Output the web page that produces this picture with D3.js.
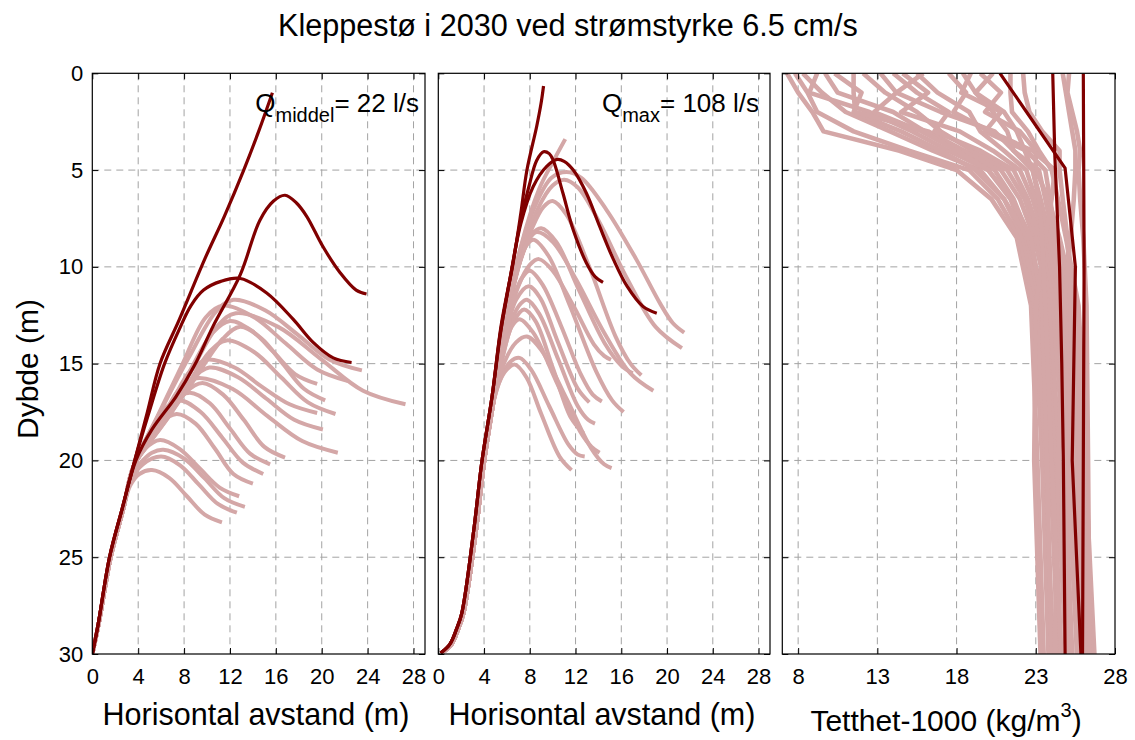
<!DOCTYPE html>
<html><head><meta charset="utf-8">
<script src="https://cdn.jsdelivr.net/npm/d3@7"></script>
<style>body{margin:0;background:#fff} svg text{font-family:"Liberation Sans",Arial,sans-serif}</style>
</head><body><svg id="c" width="1135" height="740"></svg>
<script>
// ---------- data ----------
const titleText = "Kleppestø i 2030 ved strømstyrke 6.5 cm/s";
const distTicks = [0,4,8,12,16,20,24,28];
const rhoTicks = [8,13,18,23,28];
const depthTicks = [0,5,10,15,20,25,30];

// panel 1 (Q middel) : [horizontal distance, depth]
const p1LightTrunk = [[0,30],[0.6,28.3],[1.6,25],[2.7,22.5]];
const p1LightBranches = [
 [[3.6,20.3],[6.0,17.4],[8.4,14.7],[10.8,12.3],[12.3,11.7],[15.1,12.25],[17.9,13.5],[20.7,14.8],[23.5,15.35]],
 [[3.6,20.3],[5.7,17.7],[7.8,15.1],[9.9,12.6],[11.4,12.0],[14.1,12.6],[16.85,13.95],[19.6,15.3],[22.3,15.9]],
 [[3.6,20.3],[6.1,17.9],[8.6,15.4],[11.0,13.0],[12.5,12.4],[16.2,13.1],[19.9,14.75],[23.6,16.4],[27.3,17.1]],
 [[3.6,20.3],[5.9,18.0],[8.2,15.7],[10.5,13.4],[12.0,12.8],[13.9,13.3],[15.8,14.4],[17.7,15.55],[19.6,16.05]],
 [[3.6,20.3],[6.2,18.1],[8.8,15.9],[11.4,13.7],[12.9,13.1],[14.75,13.7],[16.6,15.0],[18.45,16.3],[20.3,16.9]],
 [[3.6,20.3],[5.8,18.3],[8.0,16.4],[10.2,14.4],[11.7,13.8],[14.1,14.4],[16.45,15.7],[18.8,17.0],[21.2,17.6]],
 [[3.6,20.3],[5.2,18.6],[6.9,17.0],[8.5,15.4],[10.0,14.8],[12.4,15.2],[14.8,16.2],[17.2,17.1],[19.6,17.55]],
 [[3.6,20.3],[5.3,18.8],[7.0,17.3],[8.7,15.8],[10.2,15.2],[12.7,15.7],[15.15,16.8],[17.6,17.9],[20.1,18.4]],
 [[3.6,20.3],[4.9,19.0],[6.2,17.7],[7.6,16.3],[9.1,15.75],[12.2,16.3],[15.25,17.7],[18.3,19.0],[21.4,19.6]],
 [[3.6,20.3],[5.1,19.0],[6.6,17.8],[8.1,16.5],[9.6,16.0],[11.4,16.6],[13.2,17.9],[15.0,19.3],[16.8,19.85]],
 [[3.6,20.3],[4.7,19.3],[5.8,18.2],[7.0,17.0],[8.5,16.5],[10.25,17.05],[12.0,18.35],[13.75,19.65],[15.5,20.2]],
 [[3.6,20.3],[4.5,19.4],[5.3,18.5],[6.2,17.4],[7.65,16.9],[9.45,17.5],[11.3,18.8],[13.1,20.1],[14.9,20.7]],
 [[3.6,20.3],[4.6,19.3],[5.9,18.1],[7.35,17.6],[9.0,18.1],[10.7,19.4],[12.3,20.7],[14.0,21.2]],
 [[3.6,20.3],[4.6,19.4],[5.9,18.95],[7.6,19.4],[9.35,20.4],[11.1,21.4],[12.8,21.85]],
 [[3.5,20.7],[4.4,20.0],[5.2,19.6],[6.2,19.45],[8.0,19.9],[9.75,20.9],[11.5,21.95],[13.3,22.4]],
 [[3.4,21.0],[4.4,20.2],[6.0,19.8],[7.65,20.25],[9.3,21.25],[10.95,22.25],[12.6,22.7]],
 [[3.3,21.3],[4.1,20.7],[5.2,20.5],[6.7,20.9],[8.25,21.85],[9.8,22.8],[11.3,23.2]]
];
const p1Dark = [
 [[0,30],[0.5,28.5],[1.5,25],[2.6,22.5],[3.7,20],[4.8,17.5],[5.9,15],[7.6,12.7],[9.8,9.6],[11.5,7.4],[13.2,5],[14.5,3],[15.7,1.0]],
 [[0,30],[0.5,28.5],[1.5,25],[2.6,22.5],[3.8,20],[5.2,18.4],[7.3,16.7],[8.9,15.1],[10.5,13.1],[12.9,10.4],[14.6,7.6],[15.8,6.6],[16.8,6.3],[17.8,6.7],[18.7,7.4],[20.1,8.95],[21.6,10.3],[23.0,11.2],[23.9,11.4]],
 [[0,30],[0.5,28.5],[1.5,25],[2.6,22.5],[3.7,20],[4.9,17.6],[6.3,15],[7.6,13.2],[8.6,12.0],[9.7,11.2],[11.2,10.75],[12.9,10.6],[15.2,11.35],[17.5,12.7],[19.25,13.9],[21.0,14.7],[22.6,14.94]]
];

// panel 2 (Q max)
const p2LightTrunk = [[0.3,29.95],[1.15,29.5],[1.75,28.7],[2.2,27.9],[3.3,23.6],[4.0,20.1]];
const p2LightBranches = [
 [[4.9,16.7],[5.8,13.0],[7.2,9.0],[8.8,6.0],[10.0,4.6],[11.1,3.4]],
 [[4.9,16.7],[5.8,13.0],[7.0,9.5],[8.5,6.8],[9.9,5.4],[11.2,5.1],[12.5,5.4],[14.7,7.05],[17.3,9.6],[19.4,11.9],[20.5,12.9],[21.5,13.4]],
 [[4.9,16.7],[5.9,13.0],[7.2,9.5],[8.7,7.0],[10.0,5.8],[11.0,5.5],[12.2,5.9],[14.0,7.6],[16.5,10.6],[19.0,13.1],[21.3,14.2]],
 [[4.9,16.7],[5.8,13.2],[6.9,10.2],[8.2,8.0],[9.2,6.9],[10.0,6.6],[11.2,7.3],[13.2,10.0],[15.5,13.6],[16.8,15.0],[17.75,15.6]],
 [[4.9,16.7],[5.9,13.0],[7.0,10.0],[7.9,8.6],[8.6,8.2],[10.0,8.7],[12.0,10.6],[14.5,13.4],[16.8,15.5],[18.8,16.4]],
 [[4.9,16.7],[5.8,13.2],[6.8,10.5],[7.6,9.0],[8.3,8.6],[9.6,9.4],[11.5,12.0],[13.8,15.4],[15.2,16.9],[16.2,17.5]],
 [[4.9,16.7],[5.9,12.8],[7.0,10.0],[8.2,8.3],[9.0,8.0],[10.3,8.7],[12.3,11.2],[14.6,14.0],[16.0,15.1],[17.0,15.5]],
 [[4.9,16.7],[5.8,13.6],[6.7,11.4],[7.4,10.5],[8.0,10.2],[9.1,10.9],[10.7,13.0],[12.5,15.6],[13.5,16.6],[14.3,16.95]],
 [[4.9,16.7],[5.9,13.3],[7.0,11.0],[8.0,9.9],[8.8,9.6],[10.0,10.2],[11.8,12.0],[13.6,14.0],[14.5,14.6],[15.1,14.8]],
 [[4.9,16.7],[5.8,14.0],[6.6,12.5],[7.2,11.9],[7.75,11.7],[8.8,12.4],[10.5,14.8],[12.2,17.2],[13.1,17.9],[13.7,18.1]],
 [[4.9,16.7],[5.8,14.2],[6.6,12.8],[7.5,12.2],[8.5,12.8],[10.0,15.2],[11.6,17.8],[12.7,18.6]],
 [[4.9,16.7],[5.7,14.5],[6.4,13.1],[7.1,12.7],[8.3,13.4],[10.3,15.9],[12.4,18.5],[13.4,19.3],[14.1,19.6]],
 [[4.9,16.7],[5.8,14.9],[6.8,13.9],[7.75,13.6],[9.0,14.3],[11.2,16.8],[13.4,19.4],[14.5,20.2],[15.15,20.4]],
 [[4.7,17.3],[5.5,15.7],[6.3,14.9],[7.1,14.7],[8.1,15.3],[9.7,17.2],[11.4,19.2],[12.2,19.7],[12.8,19.8]],
 [[4.6,17.6],[5.3,16.0],[6.0,15.3],[6.7,15.05],[7.7,15.7],[9.0,17.6],[10.6,19.8],[11.65,20.5]],
 [[4.9,16.7],[5.8,13.8],[6.8,11.7],[7.9,11.0],[8.9,11.6],[10.4,13.8],[12.2,16.3],[13.2,17.0]]
];
const p2Dark = [
 [[0.2,29.95],[1.0,29.5],[1.6,28.7],[2.05,27.9],[3.1,23.6],[3.8,20.1],[4.7,16.7],[5.4,13.5],[6.0,11.5],[6.6,9.6],[7.2,7.3],[7.75,5.0],[8.6,2.75],[9.0,1.5],[9.2,0.66]],
 [[0.2,29.95],[1.0,29.5],[1.6,28.7],[2.05,27.9],[3.1,23.6],[3.8,20.1],[4.7,16.7],[5.5,13.0],[6.3,10.5],[7.2,7.6],[7.9,5.9],[8.6,4.5],[9.2,4.05],[9.7,4.15],[10.05,4.5],[10.9,6.2],[11.8,8.1],[12.95,9.8],[13.7,10.5],[14.4,10.8]],
 [[0.2,29.95],[1.0,29.5],[1.6,28.7],[2.05,27.9],[3.1,23.6],[3.8,20.1],[4.7,16.7],[5.5,13.2],[6.4,10.2],[7.2,7.8],[8.3,5.85],[9.5,4.8],[10.4,4.45],[11.0,4.55],[11.8,5.0],[12.95,6.2],[14.1,7.9],[15.3,9.6],[16.5,11.0],[17.9,12.05],[19.1,12.4]]
];

// panel 3: density (Tetthet-1000) profiles at these depths
const rhoDepths = [0,1,2,3,4,5,6.5,8.5,12,20,30];
const rhoLight = [
 [7.3, 8.0, 8.9, 9.6, 14.4, 18.0, 20.2, 21.8, 22.7, 23.1, 23.5],
 [7.8, 8.6, 9.2, 11.5, 15.0, 18.8, 20.6, 22.0, 22.9, 23.4, 23.8],
 [8.3, 9.5, 11.0, 13.8, 16.5, 19.5, 21.0, 22.2, 23.1, 23.6, 24.1],
 [9.2, 8.7, 12.5, 15.2, 17.5, 20.0, 21.4, 22.4, 23.3, 23.9, 24.4],
 [9.7, 10.5, 14.0, 16.0, 18.3, 20.4, 21.6, 22.6, 23.5, 24.1, 24.6],
 [10.3, 12.0, 11.5, 14.5, 17.0, 19.2, 21.0, 22.5, 23.7, 24.3, 24.9],
 [11.5, 11.5, 11.6, 16.2, 18.5, 20.8, 22.0, 22.9, 23.9, 24.5, 25.1],
 [12.1, 13.5, 15.5, 17.0, 19.0, 21.2, 22.3, 23.1, 24.1, 24.8, 25.3],
 [13.2, 14.2, 12.8, 15.8, 18.0, 20.0, 21.5, 22.7, 23.4, 23.7, 24.0],
 [14.0, 15.5, 17.5, 16.6, 19.5, 21.6, 22.5, 23.3, 24.3, 25.0, 25.6],
 [14.6, 16.2, 14.5, 18.2, 20.3, 22.0, 22.8, 23.5, 24.5, 25.2, 25.8],
 [15.5, 16.8, 18.8, 19.5, 21.0, 22.4, 23.0, 23.7, 24.7, 25.4, 26.0],
 [15.9, 14.2, 17.0, 20.4, 21.6, 22.8, 23.3, 23.9, 24.9, 25.6, 26.2],
 [18.4, 19.2, 20.3, 21.2, 21.6, 23.2, 23.6, 24.1, 25.1, 25.8, 26.4],
 [18.9, 18.3, 20.8, 19.8, 22.4, 23.6, 23.9, 24.3, 25.3, 26.0, 26.6],
 [19.5, 20.8, 19.8, 22.0, 23.0, 23.0, 23.8, 24.5, 25.5, 26.1, 26.7],
 [21.4, 21.4, 21.5, 22.5, 23.2, 24.0, 24.4, 24.9, 25.7, 26.2, 26.5],
 [22.2, 22.3, 22.6, 23.4, 24.5, 24.5, 24.7, 25.0, 25.2, 25.4, 25.6],
 [25.1, 25.0, 25.3, 25.6, 25.8, 25.7, 25.8, 26.0, 26.2, 26.3, 26.4],
 [24.7, 24.9, 25.1, 25.3, 25.5, 25.5, 25.4, 25.2, 24.8, 24.4, 24.2],
 [17.5, 18.6, 17.8, 20.1, 22.8, 24.2, 24.0, 23.6, 23.0, 22.9, 23.3],
 [20.3, 19.2, 21.0, 21.8, 22.3, 22.8, 23.2, 23.4, 23.6, 24.0, 24.6]
];
const rhoDark = [
 [[24.07,0],[24.2,4.2],[24.5,10],[24.64,15],[24.74,20],[24.85,30]],
 [[20.74,0],[24.85,4.9],[25.5,10],[25.3,20],[25.85,30]],
 [[26.0,0],[26.05,10],[26.0,20],[25.95,30]]
];

// ---------- drawing ----------
const lightCol = "#d4a7a7", darkCol = "#800000";
const svg = d3.select("#c");
const yTop = 73.3, yBot = 654;
const y = d3.scaleLinear().domain([0,30]).range([yTop,yBot]);

const panels = [
 {x: d3.scaleLinear().domain([0,29]).range([92.3,425]), ticks: distTicks,
  light: p1LightBranches.map(b => p1LightTrunk.concat(b)), dark: p1Dark, curve: d3.curveCatmullRom.alpha(0.5), lw: 4},
 {x: d3.scaleLinear().domain([0,29]).range([438.3,770]), ticks: distTicks,
  light: p2LightBranches.map(b => p2LightTrunk.concat(b)), dark: p2Dark, curve: d3.curveCatmullRom.alpha(0.5), lw: 4},
 {x: d3.scaleLinear().domain([7,28]).range([782.3,1115]), ticks: rhoTicks,
  light: rhoLight.map(vals => vals.map((v,i) => [v, rhoDepths[i]])), dark: rhoDark, curve: d3.curveLinear, lw: 4.6}
];

const defs = svg.append("defs");
panels.forEach((p,i) => {
  const [x0,x1] = p.x.range();
  defs.append("clipPath").attr("id","clip"+i).append("rect")
    .attr("x",x0).attr("y",yTop).attr("width",x1-x0).attr("height",yBot-yTop);

  const g = svg.append("g");
  const gg = g.append("g").attr("stroke","#a3a3a3").attr("stroke-width",1).attr("stroke-dasharray","7,5");
  p.ticks.filter(t => p.x(t) > x0+2 && p.x(t) < x1-2).forEach(t => {
    gg.append("line").attr("x1",p.x(t)).attr("x2",p.x(t)).attr("y1",yTop).attr("y2",yBot);
  });
  depthTicks.filter(t => t>0 && t<30).forEach(t => {
    gg.append("line").attr("x1",x0).attr("x2",x1).attr("y1",y(t)).attr("y2",y(t));
  });

  const line = d3.line().x(d => p.x(d[0])).y(d => y(d[1])).curve(p.curve);
  const lg = g.append("g").attr("clip-path","url(#clip"+i+")");
  lg.selectAll("path.l").data(p.light).join("path").attr("class","l")
    .attr("d",line).attr("fill","none").attr("stroke",lightCol).attr("stroke-width",p.lw)
    .attr("stroke-linejoin","round").attr("stroke-linecap","butt");
  lg.selectAll("path.d").data(p.dark).join("path").attr("class","d")
    .attr("d",line).attr("fill","none").attr("stroke",darkCol).attr("stroke-width",3.2)
    .attr("stroke-linejoin","round").attr("stroke-linecap","butt");

  const fmt = d3.format("d");
  const ab = g.append("g").attr("transform",`translate(0,${yBot})`)
    .call(d3.axisBottom(p.x).tickValues(p.ticks).tickFormat(fmt).tickSizeInner(-6).tickSizeOuter(0).tickPadding(14));
  const at = g.append("g").attr("transform",`translate(0,${yTop})`)
    .call(d3.axisTop(p.x).tickValues(p.ticks).tickFormat(()=>"").tickSizeInner(-6).tickSizeOuter(0));
  const al = g.append("g").attr("transform",`translate(${x0},0)`)
    .call(d3.axisLeft(y).tickValues(depthTicks).tickFormat(i===0 ? fmt : ()=>"").tickSizeInner(-6).tickSizeOuter(0).tickPadding(9));
  const ar = g.append("g").attr("transform",`translate(${x1},0)`)
    .call(d3.axisRight(y).tickValues(depthTicks).tickFormat(()=>"").tickSizeInner(-6).tickSizeOuter(0));
  [ab,at,al,ar].forEach(a => {
    a.select(".domain").remove();
    a.attr("font-size",22).attr("font-family",'"Liberation Sans",Arial,sans-serif');
    a.selectAll("text").attr("fill","#000");
    a.selectAll("line").attr("stroke","#000");
  });
  g.append("rect").attr("x",x0).attr("y",yTop).attr("width",x1-x0).attr("height",yBot-yTop)
    .attr("fill","none").attr("stroke","#000").attr("stroke-width",1.2);
});

svg.append("text").attr("x",568).attr("y",36).attr("text-anchor","middle").attr("font-size",30.6).text(titleText);
svg.append("text").attr("transform","translate(38,369) rotate(-90)").attr("text-anchor","middle").attr("font-size",30).text("Dybde (m)");
svg.append("text").attr("x",256).attr("y",725).attr("text-anchor","middle").attr("font-size",30.5).text("Horisontal avstand (m)");
svg.append("text").attr("x",602).attr("y",725).attr("text-anchor","middle").attr("font-size",30.5).text("Horisontal avstand (m)");
const tl = svg.append("text").attr("x",946).attr("y",731).attr("text-anchor","middle").attr("font-size",30);
tl.append("tspan").text("Tetthet-1000 (kg/m");
tl.append("tspan").attr("font-size",20).attr("dy",-14).text("3");
tl.append("tspan").attr("dy",14).text(")");

function qLabel(xr, sub, rest){
  const t = svg.append("text").attr("x",xr).attr("y",112).attr("text-anchor","end").attr("font-size",26);
  t.append("tspan").text("Q");
  t.append("tspan").attr("font-size",20).attr("dy",10).text(sub);
  t.append("tspan").attr("dy",-10).text(rest);
}
qLabel(419,"middel","= 22 l/s");
qLabel(759,"max","= 108 l/s");
</script></body></html>
